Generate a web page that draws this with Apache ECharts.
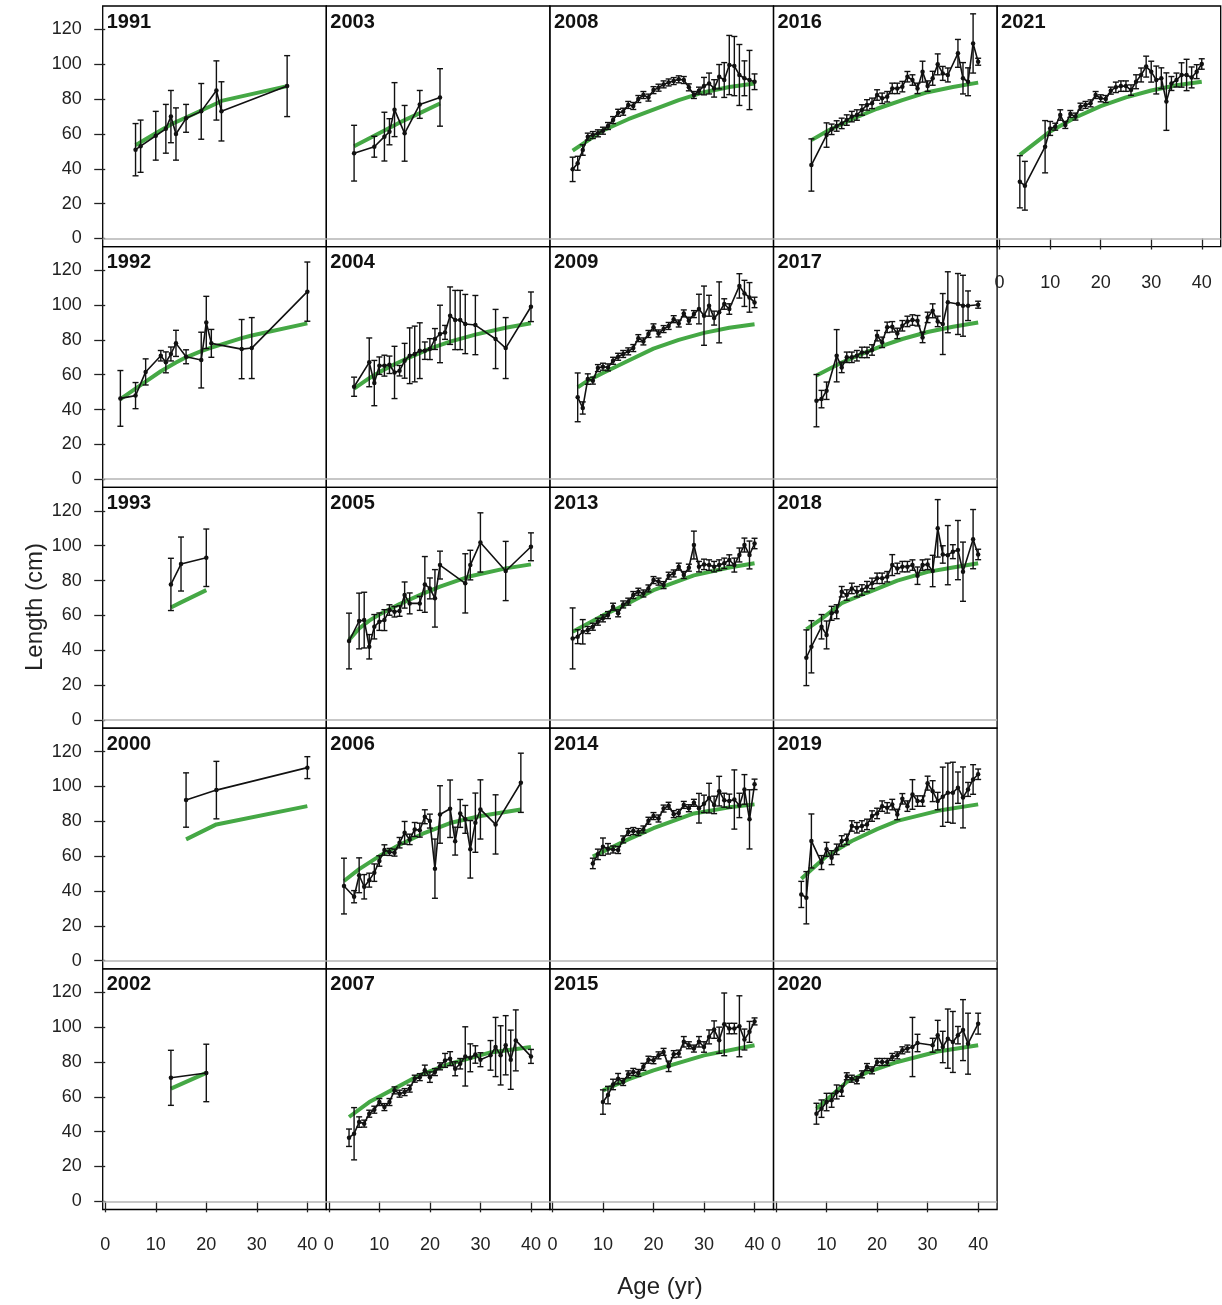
<!DOCTYPE html>
<html><head><meta charset="utf-8">
<script src="https://cdn.jsdelivr.net/npm/echarts@6/dist/echarts.min.js"></script>
<style>html,body{margin:0;padding:0;background:#fff}#c{width:1222px;height:1305px}</style>
</head><body><div id="c"></div>
<script>
const xTicks = [0,10,20,30,40];
const yTicks = [0,20,40,60,80,100,120];
const xTitle = 'Age (yr)';
const yTitle = 'Length (cm)';

// ---- 1991
const age_1991 = [6,7,10,12,13,14,16,19,22,23,36];
const mean_1991 = [51,53,59,63,70,60,69,73,85,73,87.5];
const err_1991 = [15,15,14,14,15,15,8,16,17,17,17.5];
const fitAge_1991 = [6,10,13,16,19,22,23,36];
const fit_1991 = [53.5,60.5,65.5,69.5,73.5,77.5,79,87.5];
// ---- 1992
const age_1992 = [3,6,8,11,12,13,14,16,19,20,21,27,29,40];
const mean_1992 = [46.4,48,61.6,70.9,67.1,71.9,78,70.3,68.4,90,78,74.7,75.3,107.7];
const err_1992 = [16,7.5,7.5,3,6,4,7.5,4,16,15,8,17,17.5,17];
const fitAge_1992 = [3,6,8,11,14,16,19,21,27,29,40];
const fit_1992 = [46,52,56,62,67,70,73.5,75.5,81,82.5,89.5];
// ---- 1993
const age_1993 = [13,15,20];
const mean_1993 = [77.8,89.5,93.1];
const err_1993 = [15,15.5,16.5];
const fitAge_1993 = [13,15,20];
const fit_1993 = [64.5,67.5,74.5];
// ---- 2000
const age_2000 = [16,22,40];
const mean_2000 = [92.2,97.9,110.8];
const err_2000 = [15.6,16.5,6.3];
const fitAge_2000 = [16,22,40];
const fit_2000 = [69.6,78.2,88.7];
// ---- 2002
const age_2002 = [13,20];
const mean_2002 = [70.9,73.7];
const err_2002 = [15.8,16.5];
const fitAge_2002 = [13,20];
const fit_2002 = [64.7,73.7];
// ---- 2003
const age_2003 = [5,9,11,12,13,15,18,22];
const mean_2003 = [49,52.7,58.5,61.3,74,60.4,77,81];
const err_2003 = [16,6,14,7.5,15.5,16,8,16.5];
const fitAge_2003 = [5,9,11,13,15,18,22];
const fit_2003 = [53,59,62,65,68,72,77.5];
// ---- 2004
const age_2004 = [5,8,9,10,11,12,13,14,15,16,17,18,19,20,21,22,23,24,25,26,27,29,33,35,40];
const mean_2004 = [53.1,67.1,55.2,65.2,65.2,65.7,61.3,62.3,68,70.9,71.9,73.8,73.8,74.7,80.5,83.4,84.3,93.9,91.4,91.4,89.1,88.5,80.5,75.3,99];
const err_2004 = [5.5,14,13,5,6,5,15,3,10,16,16,16,5,6,6,16.5,4,16.5,17,17,17,17,17,17.5,8.5];
const fitAge_2004 = [5,8,10,13,16,20,24,29,35,40];
const fit_2004 = [52,58,61.5,66,70,75,79,83,87,89.5];
// ---- 2005
const age_2005 = [4,6,7,8,9,10,11,12,13,14,15,16,18,19,20,21,22,27,28,30,35,40];
const mean_2005 = [45.3,56.8,57.3,42,53.5,56.4,57.3,63.1,62.1,62.5,71.7,66.9,66.9,77.8,75.5,69.8,88.9,78.4,88.9,101.9,85.5,99.4];
const err_2005 = [16,16,16,7,7,5,6,3,3,3,7.5,6,4,16,6,16.5,8,17,8.5,17,17,8];
const fitAge_2005 = [4,6,8,10,14,19,22,28,35,40];
const fit_2005 = [46,52.5,57,60.5,66.5,73,76.5,82.5,87,89.3];
// ---- 2006
const age_2006 = [3,5,6,7,8,9,10,11,12,13,14,15,16,17,18,19,20,21,22,24,25,26,27,28,29,30,33,38];
const mean_2006 = [42.8,36.7,49,42.4,46.2,50.5,57.2,63.5,62.4,62,67.7,73.4,69.6,75.3,74.9,82.6,80.1,52.8,83.9,87.2,68.6,84.5,81.1,63.9,79.2,86.8,78.2,102.1];
const err_2006 = [16,3.5,10,7,4,5,3,3,2,2,3,6.5,3,4,4,4,4,17,16.5,16.5,8,8,8,16.5,17,17,17,17];
const fitAge_2006 = [3,6,10,14,19,24,30,38];
const fit_2006 = [45.7,52.5,60,66.5,73.4,79,83,86.8];
// ---- 2007
const age_2007 = [4,5,6,7,8,9,10,11,12,13,14,15,16,17,18,19,20,21,22,23,24,25,26,27,28,29,30,32,33,34,35,36,37,40];
const mean_2007 = [36.5,38.8,45.5,44.6,50.3,52.6,57,54.1,57,63.7,61.8,62.7,64.7,70.4,71.3,75.2,71.3,74.2,77.5,80.9,81.9,76.1,79,83.2,82.4,84.3,81.3,83.8,88.6,83.8,89.6,81.3,92.4,83.2];
const err_2007 = [5,15,3,2,2,2,2,2,2,2,2,2,2,2,2,3,3,2,2,4,4,4,3,17,8,5,4,8.5,17,17,17,17,17.5,4];
const fitAge_2007 = [4,8,13,18,24,32,40];
const fit_2007 = [48.4,57,64.7,72.5,79,85.5,88.6];
// ---- 2008
const age_2008 = [4,5,6,7,8,9,10,11,12,13,14,15,16,17,18,19,20,21,22,23,24,25,26,27,28,29,30,31,32,33,34,35,36,37,38,39,40];
const mean_2008 = [39.7,43.2,50.8,58.5,59.4,60.4,61.9,64.6,68,72.2,72.8,76.7,76.1,80.1,82.4,80.9,85.2,86.6,88.5,89.6,90.4,91.4,91,86.8,82.4,84.9,87.5,89,86.2,92.9,91,99.6,99,93.9,92,91,90];
const err_2008 = [7,4,3,2,2,2,2,2,2,2,2,2,2,2,2,2,2,2,2,2,2,2,2,2,2,2,5,6,5,7,10,17,17,17.5,10,17,4.5];
const fitAge_2008 = [4,10,15,20,25,30,35,40];
const fit_2008 = [50.5,62,68.5,74,79.5,84,87,89];
// ---- 2009
const age_2009 = [5,6,7,8,9,10,11,12,13,14,15,16,17,18,19,20,21,22,23,24,25,26,27,28,29,30,31,32,33,34,35,37,38,39,40];
const mean_2009 = [47,40.9,57.5,56.6,63.8,64.6,64.2,68,70.3,71.9,73.4,75.3,81,79.1,83.4,87.2,83.7,86.2,88,91.9,89.4,95.2,91,94.8,97.7,93.9,99.6,92.5,95.8,100.6,97.7,111,106.7,104.4,101.5];
const err_2009 = [14,3.5,3,2,2,2,2,2,2,2,2,2,2,2,2,2,2,2,2,2,2,2,2,2,8.5,17,6,4,17.5,3,3,7,7.5,8.5,3];
const fitAge_2009 = [5,7,10,15,20,25,30,35,40];
const fit_2009 = [52.7,56.6,61,68,75,80,84,87,89];
// ---- 2013
const age_2013 = [4,5,6,7,8,9,10,11,12,13,14,15,16,17,18,19,20,21,22,23,24,25,26,27,28,29,30,31,32,33,34,35,36,37,38,39,40];
const mean_2013 = [46.8,47.8,50.6,51.6,53.5,56.4,58.3,60.2,65,61.2,66.3,67.9,71.7,73.6,72.6,75.5,80.3,79.4,77.4,82.8,84.1,88,83.2,87.4,100.4,88,89.3,88.9,88,88.9,89.9,91.8,88.9,94.7,100.4,94.7,101.3];
const err_2013 = [17.5,4,7,2,2,2,2,2,2,2,2,2,2,2,2,2,2,2,2,2,2,2,2,2,8,3,3,3,3,3,3,3,4,4,4,8,3];
const fitAge_2013 = [4,10,15,20,28,35,40];
const fit_2013 = [50.6,60,67,74.5,83,87.5,90];
// ---- 2014
const age_2014 = [8,9,10,11,12,13,14,15,16,17,18,19,20,21,22,23,24,25,26,27,28,29,30,31,32,33,34,35,36,37,38,39,40];
const mean_2014 = [55.8,61,65.4,64.2,63.8,63.5,69.6,73.8,74.4,73.8,75.3,80.3,83,81.6,87.3,88.9,84.1,84.8,89.4,87.5,90.6,87.5,90,93.3,89.4,97.3,92.1,91.6,92.5,89.1,98.3,81.1,101.2];
const err_2014 = [3,3,5,3,2,2,2,2,2,2,2,2,2,2,2,2,2,2,2,2,2,8.5,5,8.5,5,8.5,4,4,17,7,8.5,17,3];
const fitAge_2014 = [8,15,20,28,35,40];
const fit_2014 = [59.7,69.6,76,84.5,88,89.7];
// ---- 2015
const age_2015 = [10,11,12,13,14,15,16,17,18,19,20,21,22,23,24,25,26,27,28,29,30,31,32,33,34,35,36,37,38,39,40];
const mean_2015 = [57,61,67.1,70.4,68.5,72.9,74.3,73.7,77.2,81.3,81,83.8,85.8,77.5,84.5,84.8,91.6,89.6,87.7,91.6,88.6,94.4,98.6,92.5,101.6,99.2,99.2,100.5,92.9,97.3,103.3];
const err_2015 = [7,5,3,3,2,2,2,2,2,2,2,2,2,3,2,2,3,2,2,3,3,4,5,7.5,18,3,3,17.5,6,6,2];
const fitAge_2015 = [10,15,20,30,40];
const fit_2015 = [63.7,70,75.2,83.8,89.6];
// ---- 2016
const age_2016 = [7,10,11,12,13,14,15,16,17,18,19,20,21,22,23,24,25,26,27,28,29,30,31,32,33,34,36,37,38,39,40];
const mean_2016 = [42.2,59.4,62.7,64.6,66.1,68,70,70.9,73.8,76.7,77.6,82.4,80.5,81.4,86.2,86.2,87.2,92.9,91,86.2,95.8,87.5,92,100,94.8,93.9,106.3,92,90,112,101.5];
const err_2016 = [15,7,3,3,3,3,3,3,3,3,3,3,3,3,3,3,3,3,3,3,6,3,4,6,4,4,8,9,8,17,2];
const fitAge_2016 = [7,10,15,20,25,30,35,40];
const fit_2016 = [56.5,61.5,68.5,74.5,79.5,84,87,89.5];
// ---- 2017
const age_2017 = [8,9,10,12,13,14,15,16,17,18,19,20,21,22,23,24,25,26,27,28,29,30,31,32,33,34,36,37,38,40];
const mean_2017 = [45.1,46,50.8,70.9,64.2,70,70,70.9,72.8,72.8,74.2,82.4,78.6,87.2,87.5,83.7,88.1,90.6,91.4,91,81.4,92.9,96.7,90.6,89.1,101.6,100.6,99.6,99.6,100.2];
const err_2017 = [15,5,5,15,3,3,3,3,3,3,3,3,3,3,3,3,3,3,3,3,3,3,4,3,17.5,17.5,17.5,17.5,8.5,2];
const fitAge_2017 = [8,13,17,21,25,30,35,40];
const fit_2017 = [59.5,67,72,76.5,80.5,84.5,87.5,90];
// ---- 2018
const age_2018 = [6,7,9,10,11,12,13,14,15,16,17,18,19,20,21,22,23,24,25,26,27,28,29,30,31,32,33,34,35,36,37,39,40];
const mean_2018 = [35.7,42,53.5,48.8,61.2,62.1,73.6,71.7,75.5,73.6,74.6,76.5,78.4,81.3,81.3,82.2,88.9,87,88,88,88.9,82.8,88.9,89.3,85.5,110,95,94.6,96.6,97.5,85.1,103.8,95];
const err_2018 = [16,15,7,8,4,4,3,3,3,3,3,3,3,3,3,3,6,3,3,3,3,5,3,3,9,16.5,5,17,4,17,17,17,3];
const fitAge_2018 = [6,9,13,18,24,30,35,40];
const fit_2018 = [52,58,67,73,80,85,87.5,90];
// ---- 2019
const age_2019 = [5,6,7,9,10,11,12,13,14,15,16,17,18,19,20,21,22,23,24,25,26,27,28,29,30,31,32,33,34,35,36,37,38,39,40];
const mean_2019 = [38,36.1,68.7,56.3,63.9,59.1,63.9,68.7,69.6,77.3,76.3,77.3,78.2,83,84.5,88.7,87.7,89.6,83.9,92.9,88.7,95.4,91.6,91.6,101.9,97.3,91.6,94.1,96.4,96.4,99.3,93.7,98.3,104,107];
const err_2019 = [7.5,15,15.5,4,4,4,3,3,3,3,3,3,3,3,3,3,3,3,3,3,3,8.5,3,3,4,6,5,17,17,17.5,9,17.5,4,8.5,3];
const fitAge_2019 = [5,10,15,20,24,32,40];
const fit_2019 = [47,60,68.7,75.5,80.2,86,89.7];
// ---- 2020
const age_2020 = [8,9,10,11,12,13,14,15,16,17,18,19,20,21,22,23,24,25,26,27,28,31,32,33,34,35,36,37,38,40];
const mean_2020 = [50.3,53.2,57,58,62.8,63.3,71.8,70.4,69.5,72.9,77.1,75.2,80,80,80,82.9,83.8,86.7,87.7,88.6,90.9,89.6,95.4,88.6,93.4,91.5,95.4,98.3,90.5,102];
const err_2020 = [6,5,5,4,4,3,2,2,2,2,2,2,2,2,2,2,2,2,2,17,5,4,8.5,9,17,17.5,5,17.5,17.5,6];
const fitAge_2020 = [8,14,18,24,32,40];
const fit_2020 = [53.2,68.5,74,80,86,89.6];
// ---- 2021
const age_2021 = [4,5,9,10,11,12,13,14,15,16,17,18,19,20,21,22,23,24,25,26,27,28,29,30,31,32,33,34,35,36,37,38,39,40];
const mean_2021 = [32.6,30.3,52.7,63.2,64.2,70.9,65.2,71.5,70,75.7,76.7,77.6,82.4,80.5,80.1,84.9,86.8,87.5,87.5,85.2,90,93.9,98.7,95.8,91,92,78.6,89,91,93.9,93.9,92.5,95.8,100.2];
const err_2021 = [15,14,15,4,2,3,2,2,2,2,2,2,2,2,2,2,3,3,3,3,4,4,6,6,8,6,16.5,4,4,7,9,6,4,3];
const fitAge_2021 = [4,10,15,20,25,30,35,40];
const fit_2021 = [48,61.5,69.5,76,81,85,88,90];

// panel placement (column, row)
const panels = [
  ['1991',0,0,age_1991,mean_1991,err_1991,fitAge_1991,fit_1991],
  ['1992',0,1,age_1992,mean_1992,err_1992,fitAge_1992,fit_1992],
  ['1993',0,2,age_1993,mean_1993,err_1993,fitAge_1993,fit_1993],
  ['2000',0,3,age_2000,mean_2000,err_2000,fitAge_2000,fit_2000],
  ['2002',0,4,age_2002,mean_2002,err_2002,fitAge_2002,fit_2002],
  ['2003',1,0,age_2003,mean_2003,err_2003,fitAge_2003,fit_2003],
  ['2004',1,1,age_2004,mean_2004,err_2004,fitAge_2004,fit_2004],
  ['2005',1,2,age_2005,mean_2005,err_2005,fitAge_2005,fit_2005],
  ['2006',1,3,age_2006,mean_2006,err_2006,fitAge_2006,fit_2006],
  ['2007',1,4,age_2007,mean_2007,err_2007,fitAge_2007,fit_2007],
  ['2008',2,0,age_2008,mean_2008,err_2008,fitAge_2008,fit_2008],
  ['2009',2,1,age_2009,mean_2009,err_2009,fitAge_2009,fit_2009],
  ['2013',2,2,age_2013,mean_2013,err_2013,fitAge_2013,fit_2013],
  ['2014',2,3,age_2014,mean_2014,err_2014,fitAge_2014,fit_2014],
  ['2015',2,4,age_2015,mean_2015,err_2015,fitAge_2015,fit_2015],
  ['2016',3,0,age_2016,mean_2016,err_2016,fitAge_2016,fit_2016],
  ['2017',3,1,age_2017,mean_2017,err_2017,fitAge_2017,fit_2017],
  ['2018',3,2,age_2018,mean_2018,err_2018,fitAge_2018,fit_2018],
  ['2019',3,3,age_2019,mean_2019,err_2019,fitAge_2019,fit_2019],
  ['2020',3,4,age_2020,mean_2020,err_2020,fitAge_2020,fit_2020],
  ['2021',4,0,age_2021,mean_2021,err_2021,fitAge_2021,fit_2021]
];

const L0 = 102.7, PW = 223.6, T0 = 6, PH = 240.7;
const FONT = '"Liberation Sans", Arial, sans-serif';
const INK = '#222';

function renderErr(params, api) {
  const x = api.value(0), lo = api.value(1), hi = api.value(2);
  const a = api.coord([x, lo]), b = api.coord([x, hi]);
  const cw = 3;
  const st = {stroke: '#111', lineWidth: 1.4};
  return {type: 'group', children: [
    {type: 'line', shape: {x1: a[0], y1: a[1], x2: b[0], y2: b[1]}, style: st},
    {type: 'line', shape: {x1: a[0]-cw, y1: a[1], x2: a[0]+cw, y2: a[1]}, style: st},
    {type: 'line', shape: {x1: b[0]-cw, y1: b[1], x2: b[0]+cw, y2: b[1]}, style: st}
  ]};
}

const grid = [], xAxis = [], yAxis = [], series = [], graphic = [];
panels.forEach((p, i) => {
  const [year, col, row, age, mean, err, fa, fv] = p;
  const left = L0 + col*PW, top = T0 + row*PH;
  grid.push({left: left, top: top, width: PW, height: PH, show: true,
    borderColor: '#000', borderWidth: 1.3, backgroundColor: 'transparent',
    containLabel: false, outerBoundsMode: 'none'});
  const showX = (col < 4 && row === 4) || (col === 4 && row === 0);
  const showY = col === 0;
  xAxis.push({type: 'value', gridIndex: i, min: -0.5, max: 43.75,
    axisLine: {show: false}, splitLine: {show: false},
    axisTick: {show: showX, inside: false, length: 11, customValues: xTicks, lineStyle: {color: INK, width: 1.3}},
    axisLabel: {show: showX, customValues: xTicks, fontSize: 18, color: INK, fontFamily: FONT, margin: 27}});
  yAxis.push({type: 'value', gridIndex: i, min: -4.7, max: 133.5,
    axisLine: {show: false}, splitLine: {show: false},
    axisTick: {show: showY, inside: false, length: 11, customValues: yTicks, lineStyle: {color: INK, width: 1.3}},
    axisLabel: {show: showY, customValues: yTicks, fontSize: 18, color: INK, fontFamily: FONT, margin: 21}});
  series.push({type: 'line', xAxisIndex: i, yAxisIndex: i, z: 2, silent: true,
    data: fa.map((a, k) => [a, fv[k]]), showSymbol: false, symbol: 'none',
    lineStyle: {color: '#45a845', width: 4},
    markLine: {silent: true, symbol: 'none', label: {show: false}, animation: false,
      lineStyle: {color: '#b4b4b4', width: 1.5, type: 'solid'}, data: [{yAxis: yTicks[0]}]}});
  series.push({type: 'custom', xAxisIndex: i, yAxisIndex: i, z: 3, silent: true, clip: false,
    renderItem: renderErr, encode: {x: 0, y: [1, 2]},
    data: age.map((a, k) => [a, mean[k] - err[k], mean[k] + err[k]])});
  series.push({type: 'line', xAxisIndex: i, yAxisIndex: i, z: 4, silent: true,
    data: age.map((a, k) => [a, mean[k]]), symbol: 'circle', symbolSize: 4.5, showSymbol: true,
    itemStyle: {color: '#111'}, lineStyle: {color: '#111', width: 1.6}});
  graphic.push({type: 'text', x: left + 4, y: top + 16, z: 10, silent: true,
    style: {text: year, font: 'bold 20px ' + FONT, fill: '#111', align: 'left', verticalAlign: 'middle',
      textAlign: 'left', textVerticalAlign: 'middle'}});
});
graphic.push({type: 'text', x: 35, y: 607, rotation: Math.PI/2, silent: true,
  style: {text: yTitle, font: '24px ' + FONT, fill: INK, align: 'center', verticalAlign: 'middle',
    textAlign: 'center', textVerticalAlign: 'middle'}});
graphic.push({type: 'text', x: 660, y: 1287, silent: true,
  style: {text: xTitle, font: '24px ' + FONT, fill: INK, align: 'center', verticalAlign: 'middle',
    textAlign: 'center', textVerticalAlign: 'middle'}});

const chart = echarts.init(document.getElementById('c'), null, {renderer: 'canvas'});
chart.setOption({animation: false, backgroundColor: '#fff', grid, xAxis, yAxis, series, graphic});
</script></body></html>
